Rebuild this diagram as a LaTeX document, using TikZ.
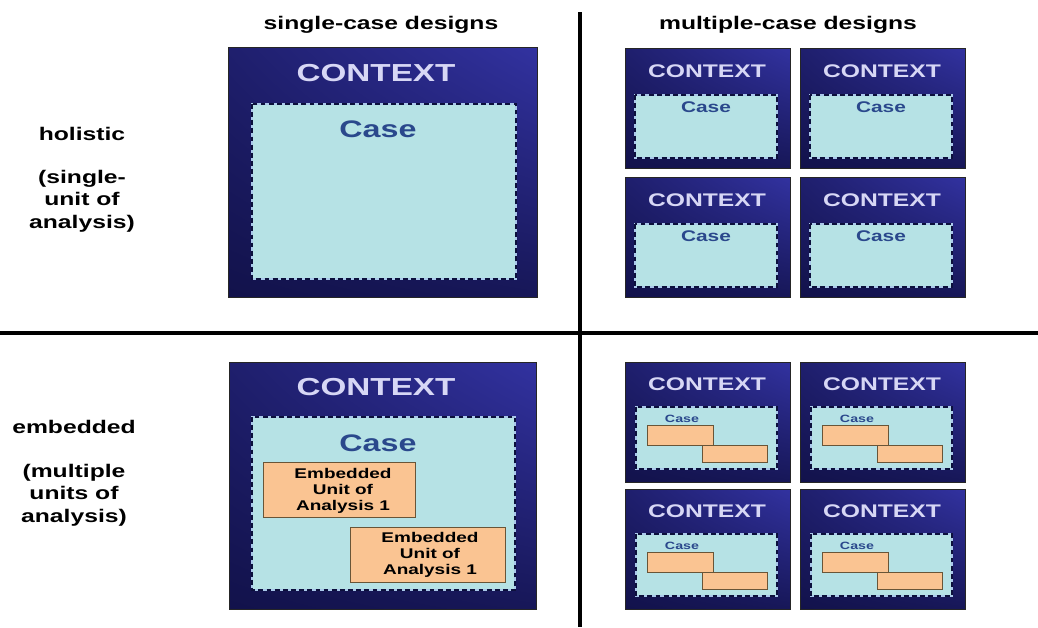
\documentclass[tikz,border=0pt]{standalone}
\usepackage{fontspec}
\setmainfont{Liberation Sans}
\usepackage{graphicx}
\usetikzlibrary{shadings}
\definecolor{ctxA}{RGB}{18,18,75}
\definecolor{ctxB}{RGB}{50,50,160}
\definecolor{ctxtext}{RGB}{215,215,245}
\definecolor{casefill}{RGB}{182,226,229}
\definecolor{caseedge}{RGB}{170,200,235}
\definecolor{casedash}{RGB}{12,16,60}
\definecolor{casetext}{RGB}{42,72,140}
\definecolor{embfill}{RGB}{250,196,146}
\definecolor{embedge}{RGB}{105,85,55}
\newcommand{\wide}[1]{\scalebox{1.35}[1]{#1}}
\begin{document}
\begin{tikzpicture}[x=0.025cm,y=-0.025cm,
  ctxbox/.style={draw=black!85,line width=0.5pt,lower left=ctxA,lower right=ctxA!85!ctxB,upper left=ctxA!60!ctxB,upper right=ctxB},
  casebox/.style={fill=casefill,draw=caseedge,line width=2pt},
  casedashes/.style={draw=casedash,line width=2pt,dash pattern=on 3.4pt off 2.4pt},
  embbox/.style={fill=embfill,draw=embedge,line width=0.6pt},
  ctxlabel/.style={text=ctxtext,font=\bfseries,inner sep=0pt},
  caselabel/.style={text=casetext,font=\bfseries,inner sep=0pt},
  rowlabel/.style={font=\fontsize{13}{16}\selectfont\bfseries,align=center,inner sep=0pt},
  divider/.style={line width=2.8pt}]
\useasboundingbox (0,0) rectangle (1038,627);
% dividing lines
\draw[divider] (580,12)--(580,627);
\draw[divider] (0,333)--(1038,333);
% headings
\node[rowlabel] (single) at (381,25) {\wide{single-case designs}};
\node[rowlabel] (multiple) at (788,25) {\wide{multiple-case designs}};
\node[rowlabel] (holistic) at (82,134) {\wide{holistic}};
\node[rowlabel] (holisticnote) at (82,201) {\wide{\begin{tabular}{@{}c@{}}(single-\\unit of\\analysis)\end{tabular}}};
\node[rowlabel] (embedded) at (74,427) {\wide{embedded}};
\node[rowlabel] (embeddednote) at (74,495) {\wide{\begin{tabular}{@{}c@{}}(multiple\\units of\\analysis)\end{tabular}}};
% single-case, holistic
\shade[ctxbox] (228,47) rectangle (537,297);
\fill[casebox] (252,104) rectangle (516,279);
\draw[casedashes] (252,104) rectangle (516,279);
\node[ctxlabel,font=\fontsize{17.5}{20}\selectfont\bfseries] (ctx-single) at (376,73) {\wide{CONTEXT}};
\node[caselabel,font=\fontsize{17}{20}\selectfont\bfseries] (case-single) at (378,129) {\wide{Case}};
% single-case, embedded
\shade[ctxbox] (229,362) rectangle (536,609);
\fill[casebox] (252,417) rectangle (515,590);
\draw[casedashes] (252,417) rectangle (515,590);
\node[ctxlabel,font=\fontsize{17.5}{20}\selectfont\bfseries] (ctx-emb) at (376,387) {\wide{CONTEXT}};
\node[caselabel,font=\fontsize{17}{20}\selectfont\bfseries] (case-emb) at (378,443) {\wide{Case}};
\draw[embbox] (263,462) rectangle (415,517);
\draw[embbox] (350,527) rectangle (505,582);
\node[font=\fontsize{10}{11.5}\selectfont\bfseries,inner sep=0pt] (unit-a) at (343,491) {\wide{\begin{tabular}{@{}c@{}}Embedded\\Unit of\\Analysis 1\end{tabular}}};
\node[font=\fontsize{10}{11.5}\selectfont\bfseries,inner sep=0pt] (unit-b) at (430,555) {\wide{\begin{tabular}{@{}c@{}}Embedded\\Unit of\\Analysis 1\end{tabular}}};
% multiple-case, holistic
\foreach \cx/\i in {625/1,800/2} {
  \foreach \cy/\j in {48/1,177/2} {
    \shade[ctxbox] (\cx,\cy) rectangle (\cx+165,\cy+120);
    \fill[casebox] (\cx+10,\cy+47) rectangle (\cx+152,\cy+110);
    \draw[casedashes] (\cx+10,\cy+47) rectangle (\cx+152,\cy+110);
    \node[ctxlabel,font=\fontsize{13}{15}\selectfont\bfseries] (ctx-h-\i-\j) at (\cx+82,\cy+23) {\wide{CONTEXT}};
    \node[caselabel,font=\fontsize{11}{13}\selectfont\bfseries] (case-h-\i-\j) at (\cx+81,\cy+59) {\wide{Case}};
  }
}
% multiple-case, embedded
\foreach \cx/\i in {625/1,800/2} {
  \foreach \cy/\j in {362/1,489/2} {
    \shade[ctxbox] (\cx,\cy) rectangle (\cx+165,\cy+120);
    \fill[casebox] (\cx+11,\cy+45) rectangle (\cx+152,\cy+107);
    \draw[casedashes] (\cx+11,\cy+45) rectangle (\cx+152,\cy+107);
    \node[ctxlabel,font=\fontsize{13}{15}\selectfont\bfseries] (ctx-e-\i-\j) at (\cx+82,\cy+22) {\wide{CONTEXT}};
    \node[caselabel,font=\fontsize{7.5}{9}\selectfont\bfseries] (case-e-\i-\j) at (\cx+57,\cy+57) {\wide{Case}};
    \draw[embbox] (\cx+22,\cy+63) rectangle (\cx+88,\cy+83);
    \draw[embbox] (\cx+77,\cy+83) rectangle (\cx+142,\cy+100);
  }
}
\end{tikzpicture}
\end{document}
